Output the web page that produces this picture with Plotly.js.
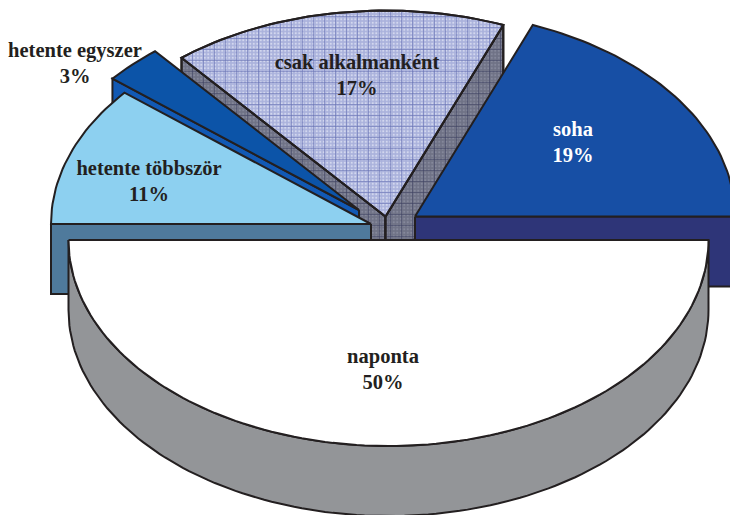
<!DOCTYPE html>
<html><head><meta charset="utf-8">
<script src="https://cdn.plot.ly/plotly-3.0.1.min.js"></script>
<style>html,body{margin:0;padding:0;background:#fff;overflow:hidden}</style>
</head><body><div id="chart" style="width:730px;height:515px"></div>
<script>
var categories = ["soha","csak alkalmanként","hetente egyszer","hetente többször","naponta"];
var values = [19,17,3,11,50];
var topColors = ["#174fa5","#aab2dc","#0c54a8","#8dd0f0","#ffffff"];
var sideColors = ["#2e3578","#6f7286","#1259b4","#4f7a9c","#939598"];
var explodeCenters = [[415,216.5],[385.5,216.5],[359,210],[371,224],[388.5,240]];
var labelPos = [[573,131],[357,64],[75,52],[149,170],[383,358]];
var RX = 320, RY = 206, DEPTH = 70, INK = "#231f20";

var total = values.reduce(function(a,b){return a+b;},0);
var starts = [], acc = 0;
values.forEach(function(v){starts.push(acc); acc += v/total*2*Math.PI;});
function pt(i,a,dy){var c=explodeCenters[i];return [c[0]+RX*Math.cos(a), c[1]-RY*Math.sin(a)+(dy||0)];}
function arc(i,a0,a1,dy){var n=Math.max(2,Math.ceil(Math.abs(a1-a0)*40)),o=[];for(var k=0;k<=n;k++){o.push(pt(i,a0+(a1-a0)*k/n,dy));}return o;}
function poly(points,color,extra){
  var t={type:"scatter",mode:"lines",x:points.map(function(p){return p[0];}).concat(points[0][0]),
    y:points.map(function(p){return p[1];}).concat(points[0][1]),fill:"toself",fillcolor:color,
    line:{color:INK,width:2},hoverinfo:"skip",showlegend:false};
  for(var k in extra){t[k]=extra[k];}
  return t;
}
function hub(i,dy){var c=explodeCenters[i];return [c[0],c[1]+(dy||0)];}
function faceAt(i,a){return [hub(i),pt(i,a),pt(i,a,DEPTH),hub(i,DEPTH)];}
function sliceEnd(i){return starts[i]+values[i]/total*2*Math.PI;}
function topFace(i){return [hub(i)].concat(arc(i,starts[i],sliceEnd(i)));}
function textured(points,bg,dot,line){
  var clear="rgba(0,0,0,0)";
  traces.push(poly(points,bg,{fillpattern:{shape:".",size:3.5,solidity:0.3,bgcolor:bg,fgcolor:dot}}));
  traces.push(poly(points,clear,{fillpattern:{shape:"+",size:11,solidity:0.1,bgcolor:clear,fgcolor:line}}));
}

var traces=[];
// csak alkalmanként (back)
textured(faceAt(1,sliceEnd(1)),sideColors[1],"#85889b","#3f4262");
textured(faceAt(1,starts[1]),sideColors[1],"#85889b","#3f4262");
textured(topFace(1),topColors[1],"#d2d7ef","#6570b2");
// hetente egyszer
traces.push(poly(faceAt(2,sliceEnd(2)),sideColors[2]));
traces.push(poly(topFace(2),topColors[2]));
// soha
traces.push(poly(faceAt(0,0),sideColors[0]));
traces.push(poly(topFace(0),topColors[0]));
// hetente többször
traces.push(poly(faceAt(3,sliceEnd(3)),sideColors[3]));
traces.push(poly(topFace(3),topColors[3]));
// naponta (front)
var s4=starts[4], e4=sliceEnd(4);
traces.push(poly(arc(4,s4,e4,DEPTH).concat(arc(4,e4,s4,0)),sideColors[4]));
traces.push(poly(arc(4,s4,e4,0),topColors[4]));

function labelTrace(i){
  var p=labelPos[i];
  return {type:"scatter",mode:"text",x:[p[0],p[0]],y:[p[1],p[1]+26],
    text:[categories[i],values[i]+"%"],textposition:"middle center",
    textfont:{family:"Liberation Serif",size:20.5,color:i===0?"#ffffff":INK,weight:700},
    hoverinfo:"skip",showlegend:false,cliponaxis:false};
}
categories.forEach(function(_,i){traces.push(labelTrace(i));});

Plotly.newPlot("chart",traces,{
  width:730,height:515,margin:{l:0,r:0,t:0,b:0},paper_bgcolor:"#fff",plot_bgcolor:"#fff",showlegend:false,
  xaxis:{range:[0,730],visible:false,fixedrange:true},
  yaxis:{range:[515,0],visible:false,fixedrange:true}
},{displayModeBar:false,staticPlot:true});
</script></body></html>
